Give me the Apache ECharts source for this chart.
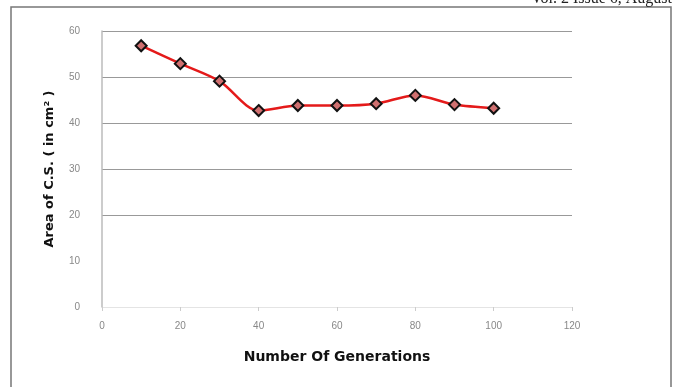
<!DOCTYPE html>
<html>
<head>
<meta charset="utf-8">
<script src="https://cdn.jsdelivr.net/npm/echarts@6/dist/echarts.min.js"></script>
<style>html,body{margin:0;padding:0;background:#fff}#c{width:676px;height:387px}</style>
</head>
<body>
<div id="c"></div>
<script>
var generations = [10, 20, 30, 40, 50, 60, 70, 80, 90, 100];
var areaValues = [56.8, 52.9, 49.1, 42.7, 43.8, 43.8, 44.2, 46.0, 44.0, 43.2];
var xTicks = [0, 20, 40, 60, 80, 100, 120];
var yTicks = [0, 10, 20, 30, 40, 50, 60];

var chart = echarts.init(document.getElementById('c'));
chart.setOption({
  animation: false,
  backgroundColor: '#fff',
  graphic: [
    {type: 'rect', shape: {x: 11, y: 7, width: 660, height: 400}, style: {fill: 'none', stroke: '#777', lineWidth: 1.5}},
    {type: 'text', right: 4, top: -9, style: {text: 'Vol. 2 Issue 6, August', font: '16px "Liberation Serif"', fill: '#222'}}
  ],
  grid: {left: 102, right: 104, top: 31, bottom: 80},
  xAxis: {
    type: 'value', min: 0, max: 120, interval: 20,
    name: 'Number Of Generations', nameLocation: 'middle', nameGap: 43,
    nameTextStyle: {fontFamily: 'DejaVu Sans', fontWeight: 'bold', fontSize: 14, color: '#111'},
    axisLine: {show: true, lineStyle: {color: '#e4e4e4'}},
    axisTick: {show: true, length: 4, lineStyle: {color: '#ccc'}},
    axisLabel: {color: '#888', fontSize: 10, fontFamily: 'Liberation Sans', margin: 14},
    splitLine: {show: false}
  },
  yAxis: {
    type: 'value', min: 0, max: 60, interval: 10,
    name: 'Area of C.S. ( in cm² )', nameLocation: 'middle', nameGap: 46,
    nameTextStyle: {fontFamily: 'DejaVu Sans', fontWeight: 'bold', fontSize: 13, color: '#111'},
    axisLine: {show: true, lineStyle: {color: '#bbb', width: 1.5}},
    axisTick: {show: false},
    axisLabel: {color: '#888', fontSize: 10, fontFamily: 'Liberation Sans', margin: 22},
    splitLine: {show: true, lineStyle: {color: ['rgba(0,0,0,0)', 'rgba(0,0,0,0)', '#999', '#999', '#999', '#999', '#999'], width: 1}}
  },
  series: [{
    type: 'line',
    data: generations.map(function (g, i) { return [g, areaValues[i]]; }),
    smooth: 0.3,
    symbol: 'diamond',
    symbolSize: 11,
    lineStyle: {color: '#e41a1a', width: 2.5},
    itemStyle: {color: '#d07070', borderColor: '#111', borderWidth: 2},
    z: 3
  }]
});
</script>
</body>
</html>
